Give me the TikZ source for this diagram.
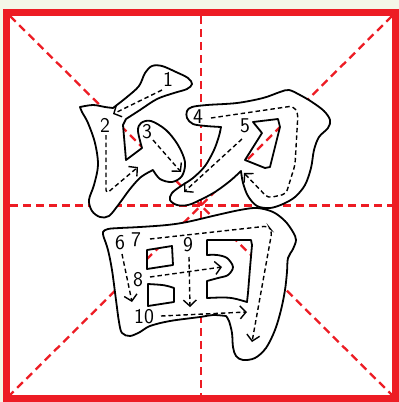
\documentclass[tikz,border=0pt]{standalone}
\usetikzlibrary{arrows.meta}
\definecolor{gridred}{RGB}{237,28,36}
\definecolor{paper}{RGB}{244,246,232}
\tikzset{
  guide/.style={gridred, line width=2.3pt, dash pattern=on 8pt off 5pt},
  glyph/.style={draw=black, fill=white, line width=1.8pt, even odd rule, line join=round},
  order/.style={black, line width=1.4pt, dash pattern=on 4.5pt off 3pt, -{Straight Barb[length=6pt, width=13pt, line width=1.4pt]}, rounded corners=4pt},
  num/.style={font=\fontsize{21}{21}\selectfont\sffamily, inner sep=0pt}
}
\begin{document}
\begin{tikzpicture}[x=1pt, y=-1pt]
\useasboundingbox (0,0) rectangle (399,402);
\fill[paper] (0,0) rectangle (399,402);
\fill[white] (3,9) rectangle (399,402);
% guides
\coordinate (tl) at (10,16); \coordinate (tr) at (392,16);
\coordinate (bl) at (10,395); \coordinate (br) at (392,395);
\coordinate (tm) at (201,16); \coordinate (bm) at (201,395);
\coordinate (lm) at (10,205.5); \coordinate (rm) at (392,205.5);
\draw[guide] (tl) -- (br);
\draw[guide] (tr) -- (bl);
\draw[guide] (tm) -- (bm);
\draw[guide] (lm) -- (rm);
\draw[gridred, line width=7pt] (6.5,12.5) rectangle (395.5,398.5);
% component 1: strokes 1-3
\path[glyph] (80,107) -- plot[smooth, tension=0.55] coordinates {(80,107) (93,105) (105,107) (113,108)}
 -- plot[smooth, tension=0.55] coordinates {(113,108) (127,97) (139,86) (145,73) (152,66) (162,66) (176,72) (188,78) (192,84) (187,89) (174,93) (157,99) (140,110) (126,119)}
 -- (123,125) -- (126,160) -- (142,148)
 -- plot[smooth, tension=0.55] coordinates {(142,148) (138,131) (141,123) (151,121) (166,130) (178,145) (185,162) (182,176) (172,182) (160,179) (153,170)}
 -- plot[smooth, tension=0.55] coordinates {(153,170) (141,177) (130,189) (119,204) (109,216) (100,217) (92,211) (89,200) (94,185) (98,165) (95,143) (88,123) (82,112) (80,107)}
 -- cycle;
% component 2: strokes 4-5
\path[glyph] (221,127) -- plot[smooth, tension=0.55] coordinates {(221,127) (206,126) (193,124) (187,118) (187,111) (192,107) (207,105) (237,103) (263,98) (280,92) (289,90) (300,95) (312,102) (324,111) (330,120) (328,128) (319,137) (314,150) (311,168) (305,185) (295,197) (283,204) (270,208) (257,206) (248,196) (243,183) (241,171)}
 -- plot[smooth, tension=0.55] coordinates {(241,171) (230,181) (215,192) (200,200) (188,205) (177,205) (170,200) (172,193) (181,186) (193,178) (205,166) (214,150) (219,136) (221,127)}
 -- cycle
 (253,122) -- (278,119) -- (280,127) -- (275,147) -- (270,167) -- (265,168) -- (245,160) -- (262,133) -- cycle;
% component 3: strokes 6-10
\path[glyph] (104,238) -- plot[smooth, tension=0.55] coordinates {(104,238) (103,232) (108,229) (120,228) (140,227) (167,225) (187,222) (217,215) (240,210) (257,208) (273,212) (285,221) (293,232) (296,240) (293,249) (288,258) (287,272) (285,290) (281,310) (275,330) (266,348) (255,358) (243,360) (236,356) (233,347) (232,333) (229,321) (226,316)}
 -- plot[smooth, tension=0.55] coordinates {(226,316) (213,315) (200,317) (170,321) (150,326) (140,332) (130,336) (122,333) (119,322) (116,300) (112,270) (108,250) (104,238)}
 -- cycle
 (147,250) -- (172,246) -- (173,265) -- (147,269) -- cycle
 (148,284) -- (148,306) -- (174,302) -- (174,288) .. controls (165,285) .. (148,284) -- cycle
 (207,240) -- (251,240) -- (252,245) -- (250,268) -- (248,293) -- (247,302) .. controls (230,297) .. (207,298) -- (207,281)
 -- plot[smooth, tension=0.55] coordinates {(207,281) (218,278) (228,275) (233,267) (227,258) (217,255) (207,255)} -- cycle;
% labels
\node[num] (n1) at (168,79) {1};
\node[num] (n2) at (105,125) {2};
\node[num] (n3) at (147,132) {3};
\node[num] (n4) at (198,117) {4};
\node[num] (n5) at (245,126) {5};
\node[num] (n6) at (120,243) {6};
\node[num] (n7) at (136,240) {7};
\node[num] (n8) at (138,280) {8};
\node[num] (n9) at (188,245) {9};
\node[num] (n10) at (144,317) {10};
% stroke order arrows
\coordinate (s1) at (162,90); \coordinate (e1) at (113,114);
\draw[order] (s1) -- (e1);
\coordinate (s2) at (106,135); \coordinate (e2) at (138,167);
\draw[order] (s2) -- (106,194) -- (e2);
\coordinate (s3) at (153,140); \coordinate (e3) at (181,172);
\draw[order] (s3) -- (e3);
\coordinate (s4) at (211,118); \coordinate (e4) at (244,173);
\draw[order] (s4) -- (293,106) -- (298,113) -- (295,165) -- (286,194) -- (268,198) -- (e4);
\coordinate (s5) at (242,139); \coordinate (e5) at (184,192);
\draw[order] (s5) -- (e5);
\coordinate (s6) at (122,254); \coordinate (e6) at (132,302);
\draw[order] (s6) -- (e6);
\coordinate (s7) at (150,239); \coordinate (e7) at (252,342);
\draw[order] (s7) -- (268,226) -- (272,231) -- (e7);
\coordinate (s8) at (150,277); \coordinate (e8) at (222,267);
\draw[order] (s8) -- (e8);
\coordinate (s9) at (189,257); \coordinate (e9) at (190,307);
\draw[order] (s9) -- (e9);
\coordinate (s10) at (161,316); \coordinate (e10) at (247,312);
\draw[order] (s10) -- (e10);
\end{tikzpicture}
\end{document}
